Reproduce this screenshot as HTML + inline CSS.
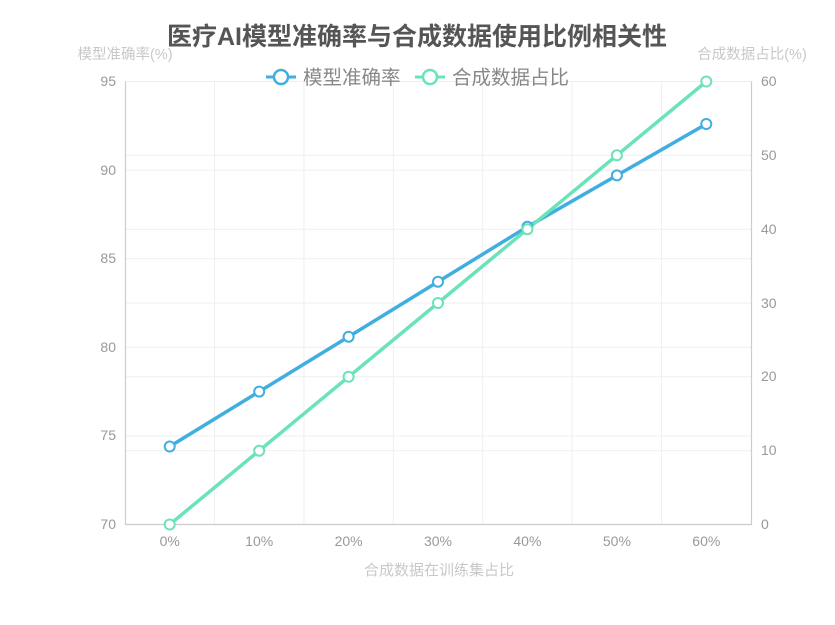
<!DOCTYPE html>
<html><head><meta charset="utf-8"><style>
html,body{margin:0;padding:0;background:#fff;}
svg{display:block;}
text{font-family:"Liberation Sans","Noto Sans CJK SC",sans-serif;}
</style></head><body>
<svg width="835" height="625" viewBox="0 0 835 625" xmlns="http://www.w3.org/2000/svg">
<rect width="835" height="625" fill="#fff"/>
<text x="417" y="45" text-anchor="middle" font-size="25" font-weight="bold" fill="#555">医疗AI模型准确率与合成数据使用比例相关性</text>
<text x="125" y="59" text-anchor="middle" font-size="14.5" fill="#c8c8c8">模型准确率(%)</text>
<text x="752" y="59" text-anchor="middle" font-size="14.5" fill="#c8c8c8">合成数据占比(%)</text>
<g stroke="#efefef" stroke-width="1" fill="none">
<line x1="125.5" y1="81.5" x2="751.5" y2="81.5"/>
<line x1="125.5" y1="170.1" x2="751.5" y2="170.1"/>
<line x1="125.5" y1="258.7" x2="751.5" y2="258.7"/>
<line x1="125.5" y1="347.3" x2="751.5" y2="347.3"/>
<line x1="125.5" y1="435.9" x2="751.5" y2="435.9"/>
<line x1="125.5" y1="155.3" x2="751.5" y2="155.3"/>
<line x1="125.5" y1="229.2" x2="751.5" y2="229.2"/>
<line x1="125.5" y1="303" x2="751.5" y2="303"/>
<line x1="125.5" y1="376.8" x2="751.5" y2="376.8"/>
<line x1="125.5" y1="450.7" x2="751.5" y2="450.7"/>
<line x1="214.5" y1="81.5" x2="214.5" y2="524.5"/>
<line x1="303.9" y1="81.5" x2="303.9" y2="524.5"/>
<line x1="393.3" y1="81.5" x2="393.3" y2="524.5"/>
<line x1="482.7" y1="81.5" x2="482.7" y2="524.5"/>
<line x1="572.1" y1="81.5" x2="572.1" y2="524.5"/>
<line x1="661.6" y1="81.5" x2="661.6" y2="524.5"/>
</g>
<g stroke="#ccc" stroke-width="1.2" fill="none">
<line x1="125.5" y1="81.5" x2="125.5" y2="525"/>
<line x1="751.5" y1="81.5" x2="751.5" y2="525"/>
<line x1="125" y1="524.5" x2="752" y2="524.5"/>
</g>
<g font-size="14" fill="#999" text-anchor="end">
<text x="116" y="86">95</text>
<text x="116" y="175">90</text>
<text x="116" y="263">85</text>
<text x="116" y="352">80</text>
<text x="116" y="440">75</text>
<text x="116" y="529">70</text>
</g>
<g font-size="14" fill="#999" text-anchor="start">
<text x="761" y="86">60</text>
<text x="761" y="160">50</text>
<text x="761" y="234">40</text>
<text x="761" y="308">30</text>
<text x="761" y="381">20</text>
<text x="761" y="455">10</text>
<text x="761" y="529">0</text>
</g>
<g font-size="14" fill="#999" text-anchor="middle">
<text x="169.7" y="546">0%</text>
<text x="259.2" y="546">10%</text>
<text x="348.6" y="546">20%</text>
<text x="438" y="546">30%</text>
<text x="527.4" y="546">40%</text>
<text x="616.9" y="546">50%</text>
<text x="706.3" y="546">60%</text>
</g>
<text x="439" y="575" text-anchor="middle" font-size="15" fill="#c8c8c8">合成数据在训练集占比</text>
<!-- legend -->
<g>
<line x1="266" y1="77" x2="296" y2="77" stroke="#40aee0" stroke-width="3"/>
<circle cx="281" cy="77" r="7" fill="#fff" stroke="#40aee0" stroke-width="2.5"/>
<text x="303" y="84" font-size="19.5" fill="#888">模型准确率</text>
<line x1="415" y1="77" x2="445" y2="77" stroke="#6be3b9" stroke-width="3"/>
<circle cx="430" cy="77" r="7" fill="#fff" stroke="#6be3b9" stroke-width="2.5"/>
<text x="452" y="84" font-size="19.5" fill="#888">合成数据占比</text>
</g>
<!-- series -->
<polyline fill="none" stroke="#40aee0" stroke-width="3.5" stroke-linejoin="round" points="169.7,446.5 259.2,391.6 348.6,336.7 438,281.7 527.4,226.8 616.9,175.4 706.3,124"/>
<polyline fill="none" stroke="#6be3b9" stroke-width="3.5" stroke-linejoin="round" points="169.7,524.5 259.2,450.7 348.6,376.8 438,303 527.4,229.2 616.9,155.3 706.3,81.5"/>
<g fill="#fff" stroke="#40aee0" stroke-width="2">
<circle cx="169.7" cy="446.5" r="5"/>
<circle cx="259.2" cy="391.6" r="5"/>
<circle cx="348.6" cy="336.7" r="5"/>
<circle cx="438" cy="281.7" r="5"/>
<circle cx="527.4" cy="226.8" r="5"/>
<circle cx="616.9" cy="175.4" r="5"/>
<circle cx="706.3" cy="124" r="5"/>
</g>
<g fill="#fff" stroke="#6be3b9" stroke-width="2">
<circle cx="169.7" cy="524.5" r="5"/>
<circle cx="259.2" cy="450.7" r="5"/>
<circle cx="348.6" cy="376.8" r="5"/>
<circle cx="438" cy="303" r="5"/>
<circle cx="527.4" cy="229.2" r="5"/>
<circle cx="616.9" cy="155.3" r="5"/>
<circle cx="706.3" cy="81.5" r="5"/>
</g>
</svg>
</body></html>
